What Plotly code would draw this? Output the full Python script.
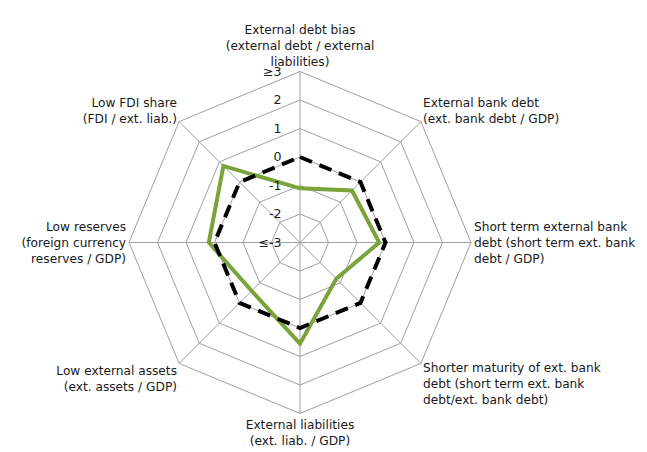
import plotly.graph_objects as go

categories = [
    "External debt bias<br>(external debt / external<br>liabilities)",
    "External bank debt<br>(ext. bank debt / GDP)",
    "Short term external bank<br>debt (short term ext. bank<br>debt / GDP)",
    "Shorter maturity of ext. bank<br>debt (short term ext. bank<br>debt/ext. bank debt)",
    "External liabilities<br>(ext. liab. / GDP)",
    "Low external assets<br>(ext. assets / GDP)",
    "Low reserves<br>(foreign currency<br>reserves / GDP)",
    "Low FDI share<br>(FDI / ext. liab.)",
]
country_values = [-1.1, -0.42, -0.22, -1.2, 0.55, -0.6, 0.2, 0.8]
benchmark_values = [0, 0, 0, 0, 0, 0, 0, 0]
tick_vals = [-3, -2, -1, 0, 1, 2, 3]
tick_text = ["≤-3", "-2", "-1", "0", "1", "2", "≥3"]

def closed(v):
    return list(v) + [v[0]]

pad = "\u00a0" * 4  # pushes the centred radial labels to the left of the axis

fig = go.Figure()
fig.add_trace(go.Scatterpolar(
    r=closed(country_values), theta=closed(categories),
    mode="lines", line=dict(color="#7ba33c", width=4),
    hoverinfo="skip", showlegend=False,
))
fig.add_trace(go.Scatterpolar(
    r=closed(benchmark_values), theta=closed(categories),
    mode="lines", line=dict(color="#000000", width=4, dash="13px,8px"),
    hoverinfo="skip", showlegend=False,
))

# page body adds an 8px offset, so target centre (300, 242.5) -> (292, 234.5)
cx, cy, rad = 292, 234.5, 171
W, H = 647, 452
fig.update_layout(
    width=W, height=H,
    margin=dict(l=0, r=0, t=0, b=0),
    paper_bgcolor="white", plot_bgcolor="white",
    font=dict(family="DejaVu Sans, sans-serif", size=12.2, color="#1a1a1a"),
    polar=dict(
        domain=dict(x=[(cx - rad) / W, (cx + rad) / W],
                    y=[(H - cy - rad) / H, (H - cy + rad) / H]),
        bgcolor="white",
        gridshape="linear",
        radialaxis=dict(
            range=[-3, 3], tickvals=tick_vals,
            ticktext=[t + pad for t in tick_text],
            angle=90, tickangle=90, side="counterclockwise",
            showline=False, gridcolor="#a0a0a0", gridwidth=1,
            ticks="", tickfont=dict(size=12.6, color="#1a1a1a"),
        ),
        angularaxis=dict(
            rotation=90, direction="clockwise",
            linecolor="#a0a0a0", linewidth=1,
            gridcolor="#a0a0a0", gridwidth=1,
            ticks="", tickfont=dict(size=12.2, color="#1a1a1a"),
        ),
    ),
)
fig.write_html("out.html")
